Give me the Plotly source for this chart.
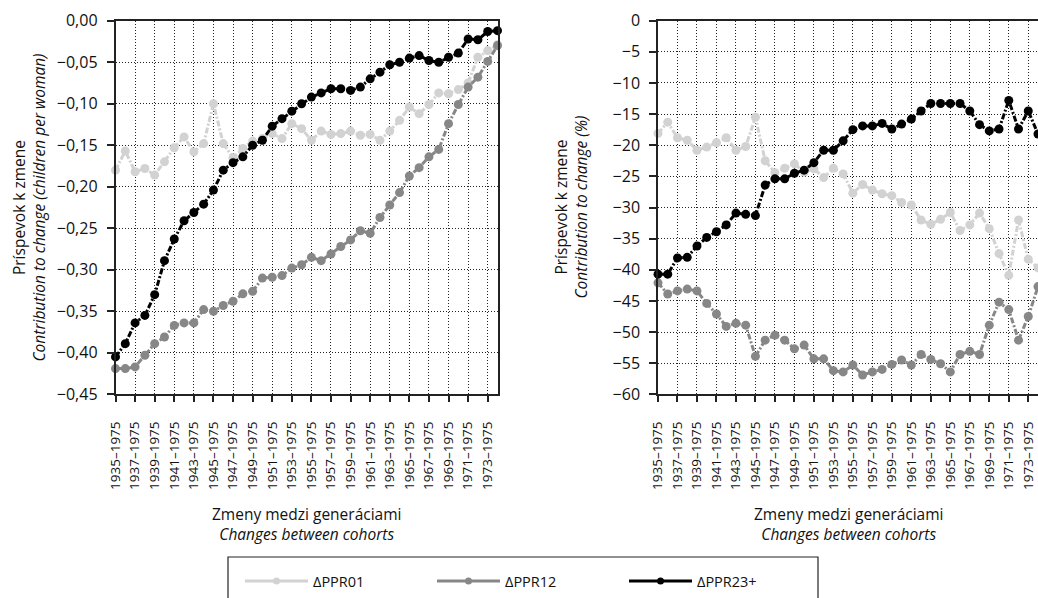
import plotly.graph_objects as go

cohorts = ["1935–1975", "1936–1975", "1937–1975", "1938–1975", "1939–1975",
           "1940–1975", "1941–1975", "1942–1975", "1943–1975", "1944–1975",
           "1945–1975", "1946–1975", "1947–1975", "1948–1975", "1949–1975",
           "1950–1975", "1951–1975", "1952–1975", "1953–1975", "1954–1975",
           "1955–1975", "1956–1975", "1957–1975", "1958–1975", "1959–1975",
           "1960–1975", "1961–1975", "1962–1975", "1963–1975", "1964–1975",
           "1965–1975", "1966–1975", "1967–1975", "1968–1975", "1969–1975",
           "1970–1975", "1971–1975", "1972–1975", "1973–1975", "1974–1975"]

tick_labels = ["1935–1975", "1937–1975", "1939–1975", "1941–1975", "1943–1975",
               "1945–1975", "1947–1975", "1949–1975", "1951–1975", "1953–1975",
               "1955–1975", "1957–1975", "1959–1975", "1961–1975", "1963–1975",
               "1965–1975", "1967–1975", "1969–1975", "1971–1975", "1973–1975"]

series_names = ["ΔPPR01", "ΔPPR12", "ΔPPR23+"]

# Left panel: contribution (children per woman)
ppr01_abs = [-0.180, -0.157, -0.182, -0.178, -0.186, -0.170, -0.153, -0.140, -0.158, -0.148,
             -0.100, -0.148, -0.165, -0.154, -0.145, -0.142, -0.136, -0.142, -0.124, -0.130,
             -0.144, -0.133, -0.137, -0.136, -0.133, -0.138, -0.137, -0.144, -0.133, -0.120,
             -0.104, -0.112, -0.101, -0.087, -0.088, -0.083, -0.075, -0.044, -0.036, -0.029]
ppr12_abs = [-0.419, -0.419, -0.417, -0.403, -0.389, -0.381, -0.367, -0.364, -0.364, -0.348,
             -0.350, -0.343, -0.338, -0.329, -0.326, -0.310, -0.309, -0.307, -0.298, -0.294,
             -0.285, -0.289, -0.281, -0.272, -0.264, -0.253, -0.256, -0.237, -0.222, -0.207,
             -0.187, -0.177, -0.164, -0.155, -0.124, -0.101, -0.080, -0.068, -0.049, -0.030]
ppr23_abs = [-0.405, -0.389, -0.364, -0.355, -0.330, -0.289, -0.263, -0.241, -0.231, -0.221,
             -0.204, -0.180, -0.171, -0.164, -0.150, -0.144, -0.127, -0.118, -0.109, -0.100,
             -0.092, -0.087, -0.082, -0.082, -0.084, -0.080, -0.070, -0.062, -0.053, -0.050,
             -0.045, -0.042, -0.048, -0.050, -0.044, -0.039, -0.022, -0.023, -0.013, -0.012]

# Right panel: contribution (%)
ppr01_pct = [-18.1, -16.3, -18.8, -19.2, -20.8, -20.3, -19.6, -18.8, -20.8, -20.2,
             -15.5, -22.5, -24.4, -23.7, -23.0, -24.3, -23.8, -25.2, -23.7, -24.6,
             -27.7, -26.3, -27.2, -27.8, -28.1, -29.2, -29.6, -32.0, -32.7, -31.9,
             -30.8, -33.7, -32.8, -30.9, -33.4, -37.4, -40.9, -32.0, -38.3, -39.7]
ppr12_pct = [-42.1, -43.9, -43.4, -43.1, -43.4, -45.4, -47.1, -49.1, -48.6, -48.9,
             -53.9, -51.3, -50.5, -51.3, -52.7, -52.1, -54.3, -54.3, -56.2, -56.4,
             -55.3, -56.9, -56.4, -56.0, -55.2, -54.5, -55.3, -53.6, -54.4, -55.1,
             -56.4, -53.6, -53.1, -53.6, -48.9, -45.2, -46.4, -51.3, -47.5, -42.7]
ppr23_pct = [-40.7, -40.7, -38.1, -38.0, -36.2, -34.8, -33.9, -32.8, -30.9, -31.1,
             -31.3, -26.4, -25.4, -25.4, -24.5, -24.0, -22.8, -20.8, -20.8, -19.3,
             -17.5, -16.9, -16.9, -16.5, -17.4, -16.6, -15.8, -14.5, -13.3, -13.3,
             -13.3, -13.3, -14.5, -16.7, -17.7, -17.4, -12.8, -17.4, -14.5, -18.2]

colors = ["#d2d2d2", "#878787", "#000000"]
FONT = "Open Sans"

fig = go.Figure()

left = [ppr01_abs, ppr12_abs, ppr23_abs]
right = [ppr01_pct, ppr12_pct, ppr23_pct]

for vals, xa, ya in [(left, "x", "y"), (right, "x2", "y2")]:
    for name, v, c in zip(series_names, vals, colors):
        fig.add_trace(go.Scatter(
            x=cohorts, y=v, xaxis=xa, yaxis=ya, name=name, showlegend=False,
            mode="lines+markers", cliponaxis=False,
            line=dict(color=c, width=3, dash="6px,2px,2px,2px"),
            marker=dict(color=c, size=9),
        ))

# legend-only traces (solid line keys)
for name, c in zip(series_names, colors):
    fig.add_trace(go.Scatter(
        x=[None], y=[None], name=name, mode="lines+markers",
        line=dict(color=c, width=3), marker=dict(color=c, size=7),
    ))

grid = dict(showgrid=True, gridcolor="#222222", gridwidth=1, griddash="1px,2px")
axis_common = dict(showline=True, linecolor="#222222", linewidth=1.5, mirror=True,
                   ticks="outside", tickcolor="#222222", tickwidth=1.5,
                   zeroline=False, automargin=False, **grid)
xfont = dict(family=FONT, size=13.5, color="#111111")
yfont = dict(family=FONT, size=16, color="#111111")

xdom1 = [115.5 / 1038, 497.5 / 1038]
xdom2 = [658 / 1038, 1.0]
ydom = [(598 - 394.3) / 598, (598 - 20.7) / 598]

fig.update_layout(
    width=1038, height=598,
    margin=dict(l=0, r=0, t=0, b=0, autoexpand=False),
    paper_bgcolor="white", plot_bgcolor="white",
    separators=", ",
    font=dict(family=FONT, size=15, color="#111111"),
    xaxis=dict(domain=xdom1, anchor="y", type="category", range=[0, 39],
               tickmode="array", tickvals=tick_labels, ticktext=tick_labels,
               tickangle=-90, ticklen=6, ticklabelstandoff=14, tickfont=xfont,
               **axis_common),
    yaxis=dict(domain=ydom, anchor="x", range=[-0.45, 0], dtick=0.05,
               tickformat=".2f", ticklen=7, ticklabelstandoff=6, tickfont=yfont,
               **axis_common),
    xaxis2=dict(domain=xdom2, anchor="y2", type="category", range=[0, 39],
                tickmode="array", tickvals=tick_labels, ticktext=tick_labels,
                tickangle=-90, ticklen=6, ticklabelstandoff=14, tickfont=xfont,
                **axis_common),
    yaxis2=dict(domain=ydom, anchor="x2", range=[-60, 0], dtick=5,
                ticklen=7, ticklabelstandoff=6, tickfont=yfont, **axis_common),
    showlegend=True,
    legend=dict(orientation="h", x=240 / 1038, xanchor="left",
                y=(598 - 565) / 598, yanchor="top",
                font=dict(family=FONT, size=14.5, color="#111111"),
                itemwidth=63, entrywidth=114, entrywidthmode="pixels",
                bgcolor="rgba(0,0,0,0)", borderwidth=0),
    shapes=[dict(type="rect", xref="paper", yref="paper",
                 x0=228 / 1038, x1=818 / 1038, y0=-0.01, y1=(598 - 557) / 598,
                 line=dict(color="#222222", width=1.2), fillcolor="rgba(0,0,0,0)")],
    annotations=[
        dict(text="Príspevok k zmene<br><i>Contribution to change (children per woman)</i>",
             xref="paper", yref="paper", x=28 / 1038, y=(598 - 207.5) / 598,
             textangle=-90, showarrow=False, xanchor="center", yanchor="middle",
             font=dict(family=FONT, size=15.5)),
        dict(text="Príspevok k zmene<br><i>Contribution to change (%)</i>",
             xref="paper", yref="paper", x=570 / 1038, y=(598 - 207.5) / 598,
             textangle=-90, showarrow=False, xanchor="center", yanchor="middle",
             font=dict(family=FONT, size=15.5)),
        dict(text="Zmeny medzi generáciami<br><i>Changes between cohorts</i>",
             xref="paper", yref="paper", x=306 / 1038, y=(598 - 524) / 598,
             showarrow=False, xanchor="center", yanchor="middle",
             font=dict(family=FONT, size=15.5)),
        dict(text="Zmeny medzi generáciami<br><i>Changes between cohorts</i>",
             xref="paper", yref="paper", x=848 / 1038, y=(598 - 524) / 598,
             showarrow=False, xanchor="center", yanchor="middle",
             font=dict(family=FONT, size=15.5)),
    ],
)

fig.write_html("out.html")
